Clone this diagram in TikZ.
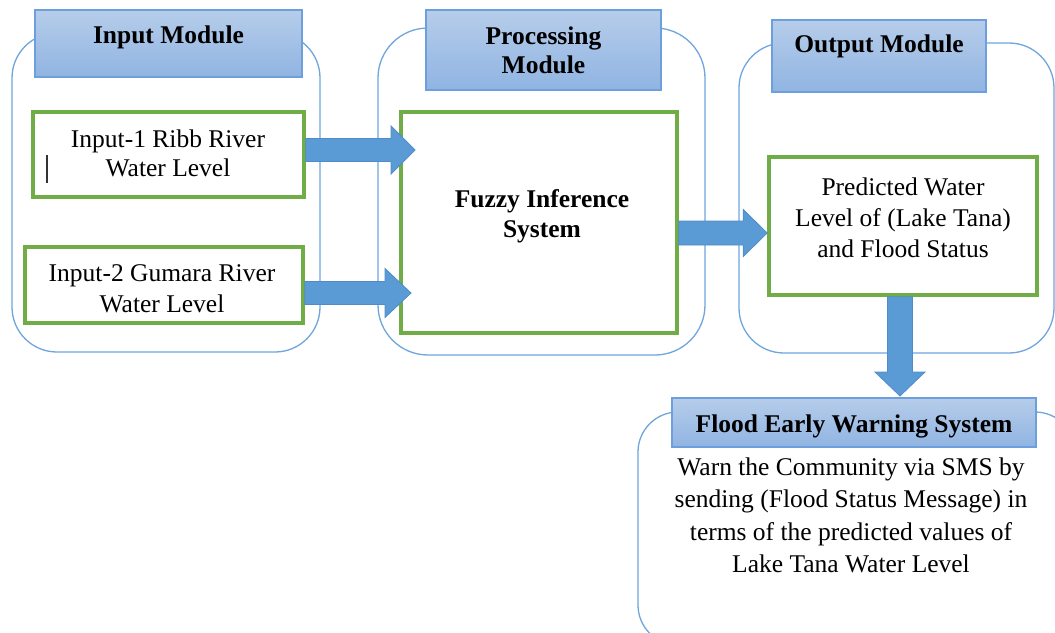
\documentclass[tikz,border=0pt]{standalone}
\usepackage{fontspec}
\setmainfont{Liberation Serif}
\usetikzlibrary{calc}
\definecolor{outerblue}{HTML}{6FA6DC}
\definecolor{hdrtop}{HTML}{B6CDEA}
\definecolor{hdrbot}{HTML}{90B4E2}
\definecolor{hdrline}{HTML}{6C9FDB}
\definecolor{boxgreen}{HTML}{70AD47}
\definecolor{arrowfill}{HTML}{5B9BD5}
\definecolor{arrowline}{HTML}{4F8BC9}
\tikzset{
  modbox/.style={draw=outerblue, line width=1.3pt, rounded corners=45pt, inner sep=0pt},
  hdrbox/.style={draw=hdrline, line width=1.2pt, top color=hdrtop, bottom color=hdrbot, inner sep=0pt},
  greenbox/.style={draw=boxgreen, line width=3.6pt, fill=white, inner sep=0pt},
  txt/.style={font=\fontsize{25.5}{30}\selectfont, align=center, inner sep=0pt, text=black},
  btxt/.style={font=\bfseries\fontsize{25.5}{30}\selectfont, align=center, inner sep=0pt, text=black},
  blockarrow/.style={fill=arrowfill, draw=arrowline, line width=0.8pt, line join=miter}
}
% horizontal block arrow: start, tip, shaft half, head half, head length
\newcommand\harrowblk[5]{%
  \path[blockarrow] let \p1=(#1), \p2=(#2) in
    (\x1,\y2+#3) -- (\x2-#5,\y2+#3) -- (\x2-#5,\y2+#4) -- (\x2,\y2)
    -- (\x2-#5,\y2-#4) -- (\x2-#5,\y2-#3) -- (\x1,\y2-#3) -- cycle;}
% vertical (downward) block arrow
\newcommand\varrowblk[5]{%
  \path[blockarrow] let \p1=(#1), \p2=(#2) in
    (\x2-#3,\y1) -- (\x2-#3,\y2+#5) -- (\x2-#4,\y2+#5) -- (\x2,\y2)
    -- (\x2+#4,\y2+#5) -- (\x2+#3,\y2+#5) -- (\x2+#3,\y1) -- cycle;}
\begin{document}
\begin{tikzpicture}[x=1pt,y=-1pt]
\useasboundingbox (0,0) rectangle (1055,632);
\clip (0,0) rectangle (1055,632);
\fill[white] (0,0) rectangle (1055,632);

% outer module boxes
\node[modbox, minimum width=308, minimum height=319] (inmod) at (166,192.5) {};
\node[modbox, minimum width=327, minimum height=327, rounded corners=50pt] (procmod) at (541.5,191.5) {};
\node[modbox, minimum width=315, minimum height=310] (outmod) at (896.5,198) {};
\node[modbox, minimum width=437, minimum height=233, rounded corners=40pt] (fewsmod) at (856.5,528.5) {};

% headers
\node[hdrbox, minimum width=267, minimum height=67] (inhdr) at (168.5,43.5) {};
\node[hdrbox, minimum width=235, minimum height=80] (prochdr) at (543.5,50) {};
\node[hdrbox, minimum width=214, minimum height=72] (outhdr) at (879,56) {};
\node[hdrbox, minimum width=364, minimum height=49] (fewshdr) at (854,422.5) {};

\node[btxt, anchor=base] (inhdrt) at (168.5,43) {Input Module};
\node[btxt, anchor=base] (prochdrt) at (543.5,44) {Processing};
\node[btxt, anchor=base] (prochdrt2) at (543.5,73) {Module};
\node[btxt, anchor=base] (outhdrt) at (879,52) {Output Module};
\node[btxt, anchor=base] (fewshdrt) at (854,432) {Flood Early Warning System};

% green boxes
\node[greenbox, minimum width=271, minimum height=85] (in1) at (168.5,154.5) {};
\node[greenbox, minimum width=278, minimum height=76] (in2) at (164,285) {};
\node[greenbox, minimum width=276, minimum height=221] (fis) at (539,222.5) {};
\node[greenbox, minimum width=268, minimum height=138] (out) at (903,226) {};

% texts
\node[txt, anchor=base] (in1a) at (168,147) {Input-1 Ribb River};
\node[txt, anchor=base] (in1b) at (168,176) {Water Level};
\node[txt, anchor=base] (in2a) at (162,281) {Input-2 Gumara River};
\node[txt, anchor=base] (in2b) at (162,312) {Water Level};
\node[btxt, anchor=base] (fisa) at (542,207) {Fuzzy Inference};
\node[btxt, anchor=base] (fisb) at (542,237) {System};
\node[txt, anchor=base] (outa) at (903,195) {Predicted Water};
\node[txt, anchor=base] (outb) at (903,226) {Level of (Lake Tana)};
\node[txt, anchor=base] (outc) at (903,257) {and Flood Status};
\node[txt, anchor=base] (fa) at (851,475) {Warn the Community via SMS by};
\node[txt, anchor=base] (fb) at (851,507.5) {sending (Flood Status Message) in};
\node[txt, anchor=base] (fc) at (851,540) {terms of the predicted values of};
\node[txt, anchor=base] (fd) at (851,572) {Lake Tana Water Level};

% text cursor mark
\coordinate (cura) at (47,155);
\coordinate (curb) at (47,183);
\draw[line width=1.3pt, black!80] (cura) -- (curb);

% arrows
\coordinate (t1) at (415,150);
\coordinate (t2) at (411,293);
\coordinate (t3) at (out.west |- 0,233);
\coordinate (t4) at (900,396);
\harrowblk{in1.east}{t1}{11.5}{24}{24}
\harrowblk{in2.east}{t2}{11.5}{24.5}{26}
\harrowblk{fis.east}{t3}{12}{23.5}{24}
\varrowblk{out.south}{t4}{12.5}{25}{24}
\end{tikzpicture}
\end{document}
